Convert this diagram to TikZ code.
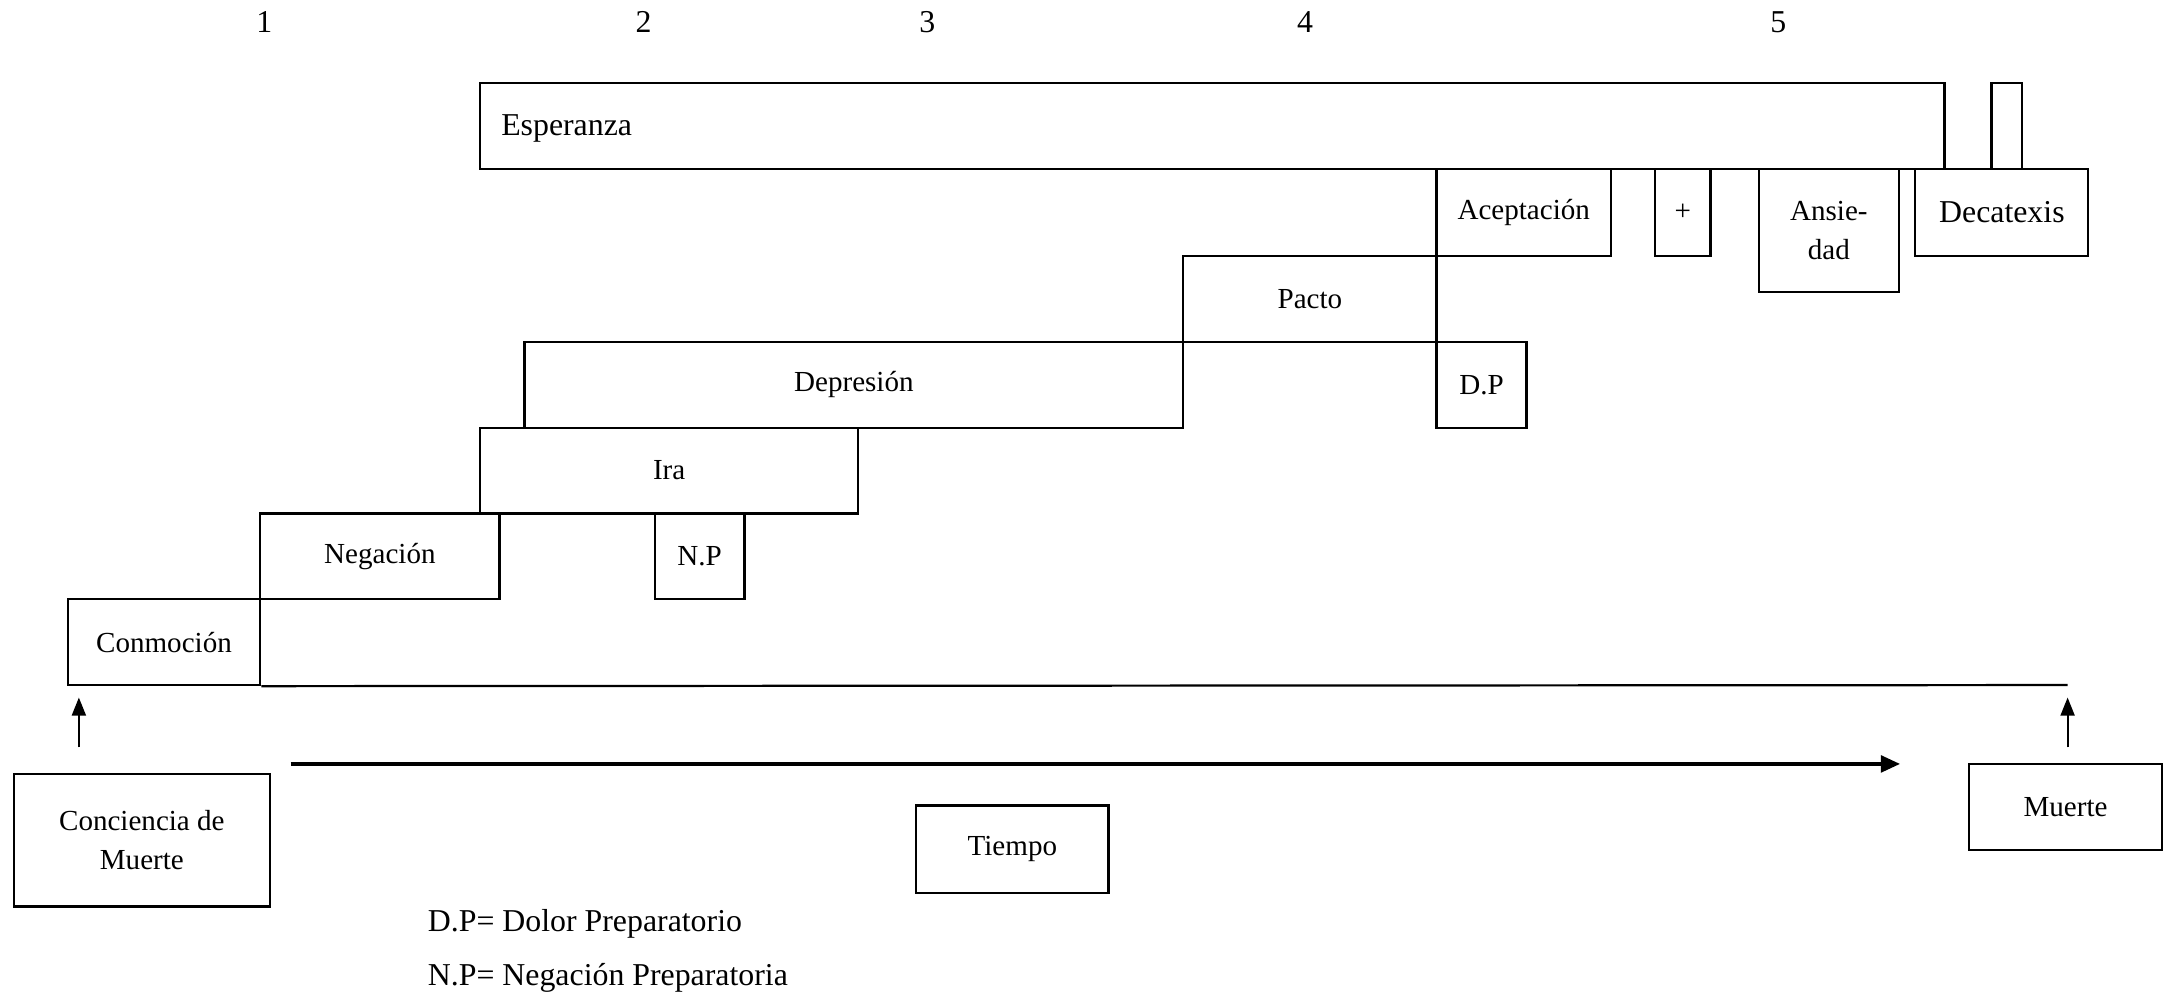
\documentclass[tikz,border=0pt]{standalone}
\usepackage{fontspec}
\setmainfont{Liberation Serif}
\usetikzlibrary{arrows.meta}
\tikzset{
  stage/.style={draw, line width=1.6pt, inner sep=0pt, align=center,
    font=\fontsize{21}{28}\selectfont},
  lbl/.style={inner sep=0pt, font=\fontsize{21}{28}\selectfont},
  biglbl/.style={inner sep=0pt, font=\fontsize{23}{28}\selectfont},
  uparrow/.style={line width=1.6pt, -{Triangle[length=13pt,width=10pt]}},
  timearrow/.style={line width=2.8pt, -{Triangle[length=14pt,width=12pt]}},
  baseline/.style={line width=1.6pt}
}
\begin{document}
\begin{tikzpicture}[x=1pt,y=-1pt]
\useasboundingbox (0,0) rectangle (1568,718);
% column numbers
\node[biglbl] (n1) at (191,16) {1};
\node[biglbl] (n2) at (465,16) {2};
\node[biglbl] (n3) at (670,16) {3};
\node[biglbl] (n4) at (943,16) {4};
\node[biglbl] (n5) at (1285,16) {5};
% stage boxes
\node[stage, minimum width=1058pt, minimum height=62pt] (esp) at (876,91) {};
\node[biglbl, anchor=west] (esplbl) at (362,93) {Esperanza};
\node[stage, minimum width=22pt, minimum height=62pt] (small) at (1450,91) {};
\node[stage, minimum width=126pt, minimum height=63pt] (acep) at (1101,153.5) {Aceptación};
\node[stage, minimum width=40pt, minimum height=63pt] (plus) at (1216,153.5) {+};
\node[stage, minimum width=101pt, minimum height=89pt] (ansi) at (1321.5,166.5) {Ansie-\\dad};
\node[stage, minimum width=125pt, minimum height=63pt, font=\fontsize{23}{28}\selectfont] (deca) at (1446.5,153.5) {Decatexis};
\node[stage, minimum width=183pt, minimum height=62pt] (pacto) at (946.5,216) {Pacto};
\node[stage, minimum width=476pt, minimum height=62pt] (depr) at (617,278) {Depresión};
\node[stage, minimum width=65pt, minimum height=62pt] (dp) at (1070.5,278) {D.P};
\node[stage, minimum width=273pt, minimum height=62pt] (ira) at (483.5,340) {Ira};
\node[stage, minimum width=173pt, minimum height=62pt] (nega) at (274.5,402) {Negación};
\node[stage, minimum width=65pt, minimum height=62pt] (np) at (505.5,402) {N.P};
\node[stage, minimum width=139pt, minimum height=62pt] (conm) at (118.5,464) {Conmoción};
% baseline
\coordinate (lineend) at (1494,495);
\draw[baseline] (conm.south east) -- (lineend);
% bottom boxes
\node[stage, minimum width=185pt, minimum height=96pt] (conc) at (102.5,607) {Conciencia de\\Muerte};
\node[stage, minimum width=139pt, minimum height=63pt] (tiempo) at (731.5,613.5) {Tiempo};
\node[stage, minimum width=139pt, minimum height=62pt] (muerte) at (1492.5,583) {Muerte};
% arrows
\coordinate (a1s) at (57,540);
\coordinate (a1e) at (57,504);
\draw[uparrow] (a1s) -- (a1e);
\coordinate (a2s) at (1494,540);
\coordinate (a2e) at (1494,504);
\draw[uparrow] (a2s) -- (a2e);
\coordinate (ts) at (210,552);
\coordinate (te) at (1373,552);
\draw[timearrow] (ts) -- (te);
% legend
\node[biglbl, anchor=base west] (leg1) at (309,673) {D.P= Dolor Preparatorio};
\node[biglbl, anchor=base west] (leg2) at (309,712) {N.P= Negación Preparatoria};
\end{tikzpicture}
\end{document}
